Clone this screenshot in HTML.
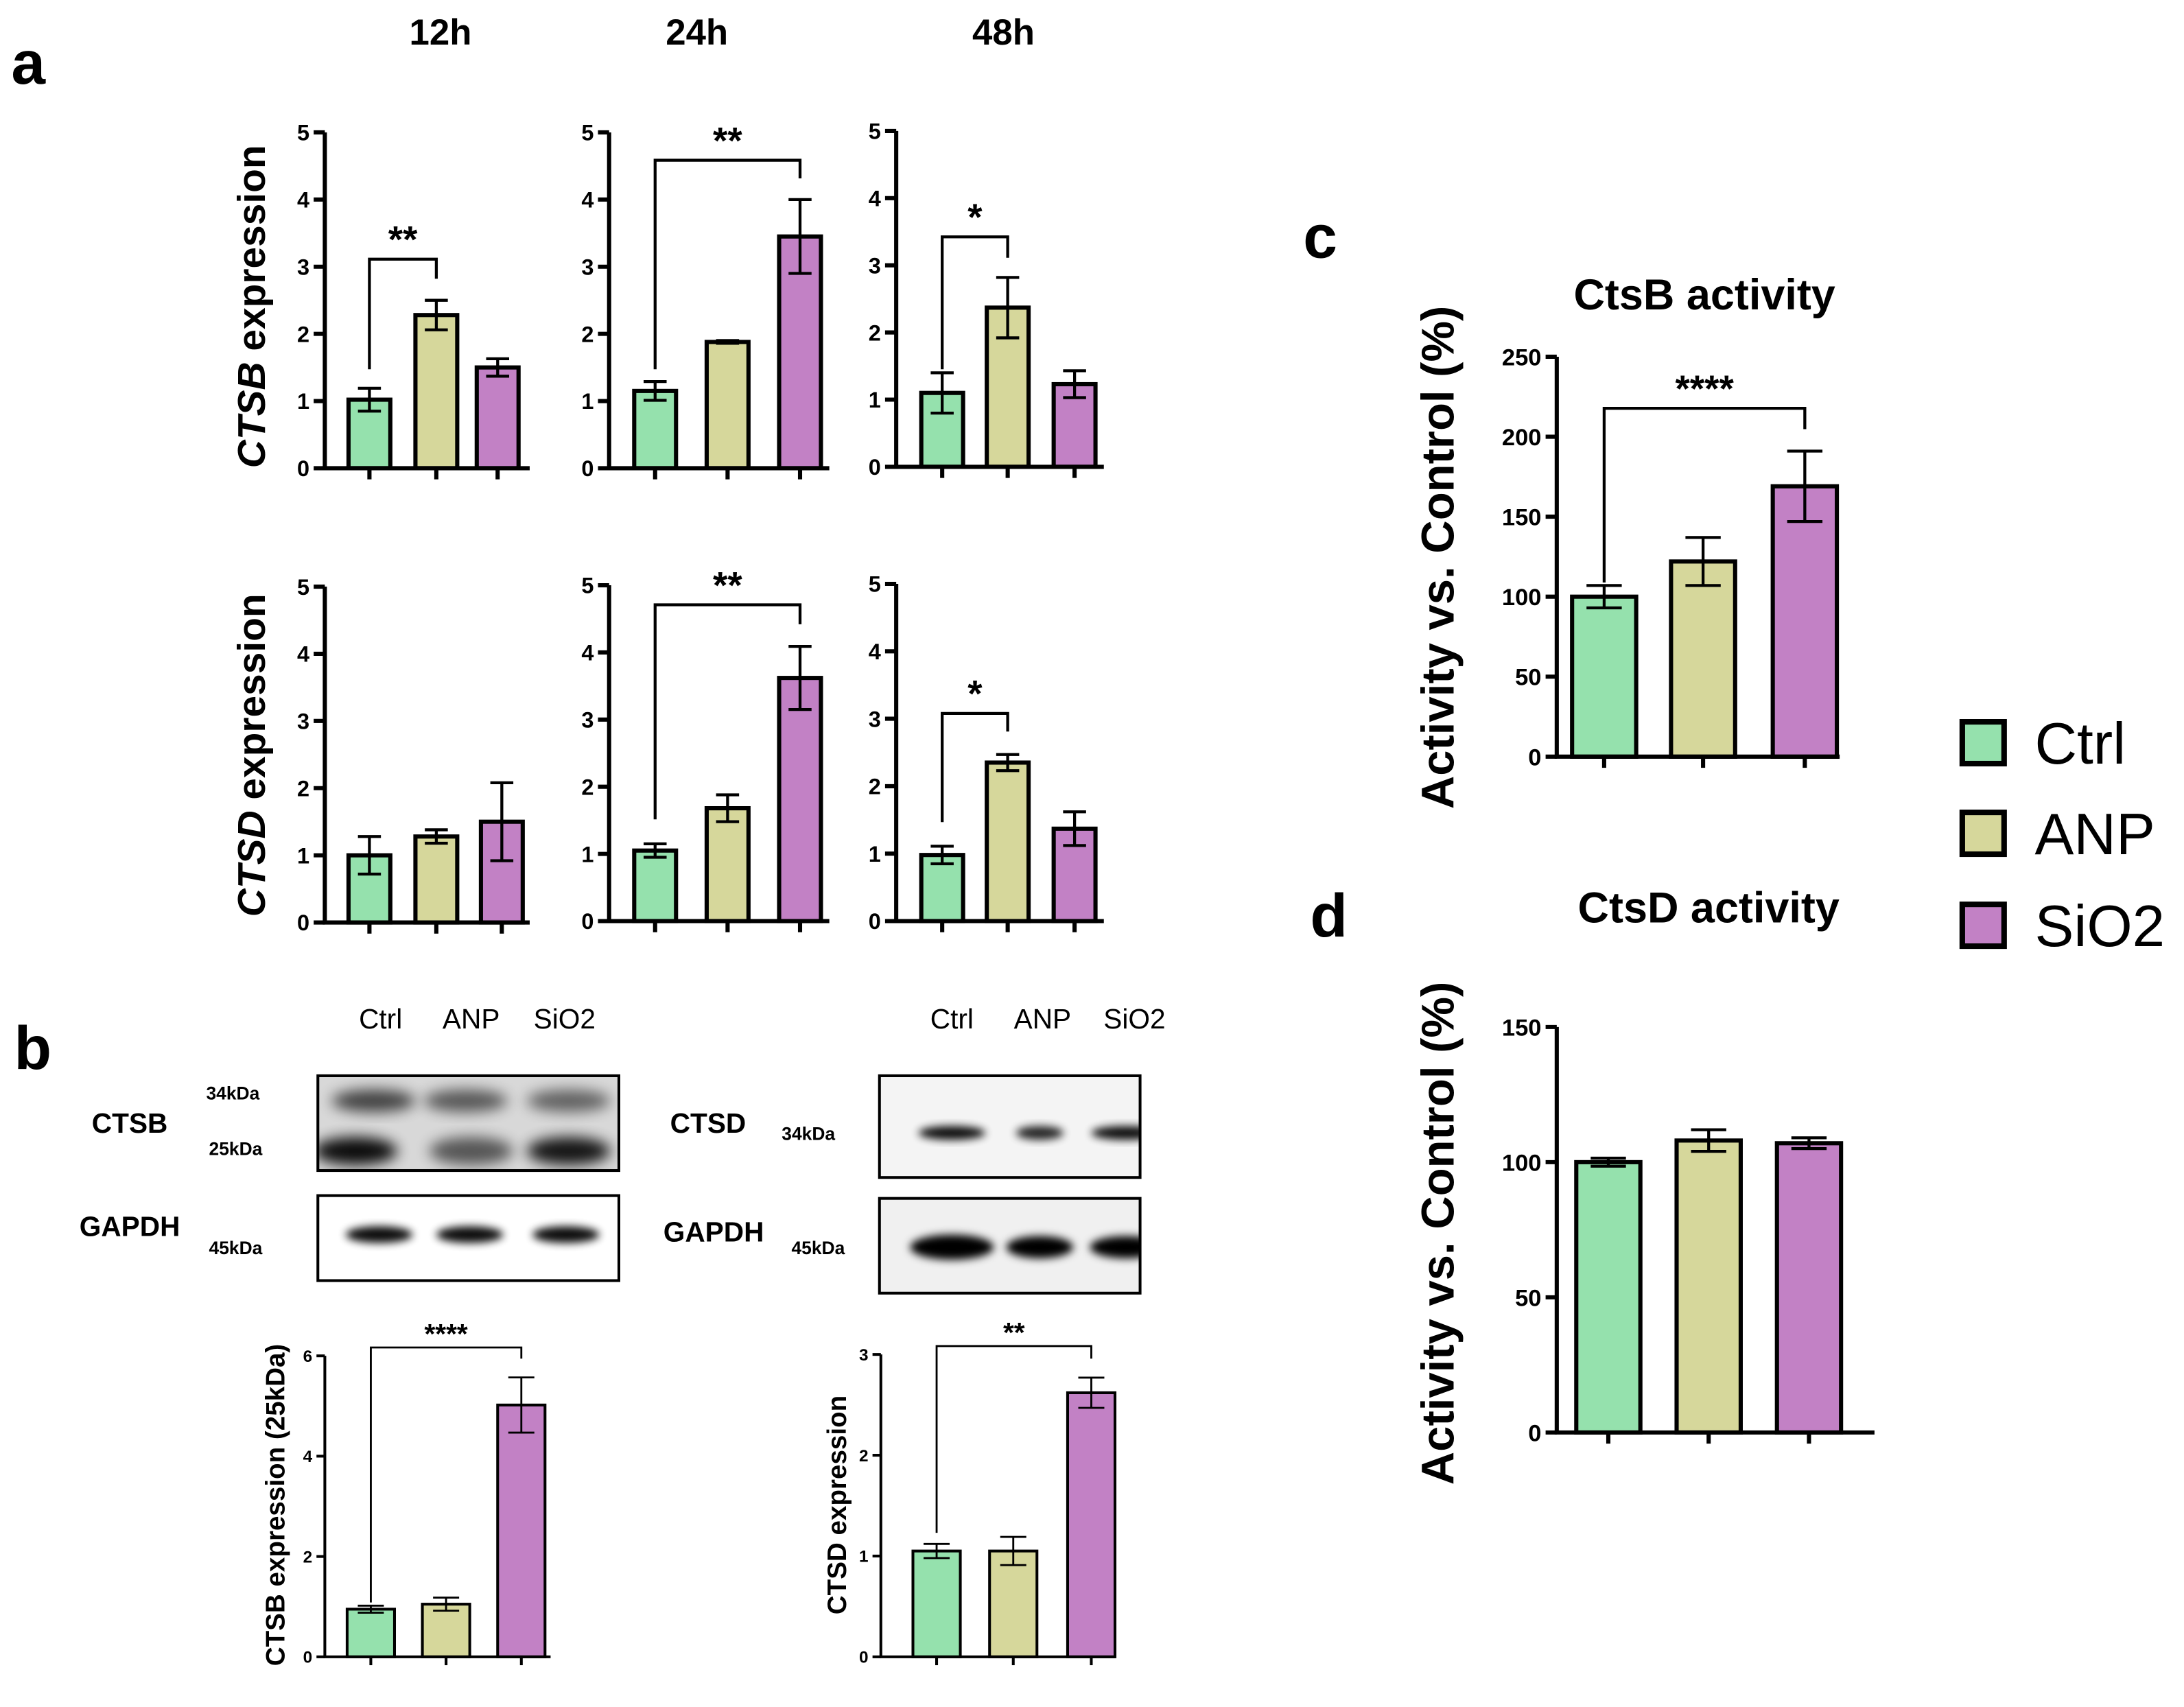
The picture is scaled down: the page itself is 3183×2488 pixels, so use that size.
<!DOCTYPE html>
<html><head><meta charset="utf-8"><style>
html,body{margin:0;padding:0;background:#fff;}
svg{display:block;font-family:"Liberation Sans",Arial,sans-serif;}
</style></head><body>
<svg id="fig" width="3183" height="2488" viewBox="0 0 1567 1225" xmlns="http://www.w3.org/2000/svg">
<defs>
<filter id="blur2" x="-50%" y="-50%" width="200%" height="200%"><feGaussianBlur stdDeviation="3"/></filter>
<filter id="blur4" x="-50%" y="-50%" width="200%" height="200%"><feGaussianBlur stdDeviation="5"/></filter>
</defs>
<g font-weight="bold" fill="#000">
<text x="8" y="60" font-size="44">a</text>
<text x="10" y="767" font-size="44">b</text>
<text x="935" y="185" font-size="44">c</text>
<text x="940" y="672" font-size="44">d</text>
<text x="316" y="32" font-size="26" text-anchor="middle">12h</text>
<text x="500" y="32" font-size="26" text-anchor="middle">24h</text>
<text x="720" y="32" font-size="26" text-anchor="middle">48h</text>
<text transform="translate(190,220) rotate(-90)" font-size="28" text-anchor="middle"><tspan font-style="italic">CTSB</tspan> expression</text>
<text transform="translate(190,542) rotate(-90)" font-size="28" text-anchor="middle"><tspan font-style="italic">CTSD</tspan> expression</text>
</g>
<g id="charts"></g>
<g id="blots"></g>
<g id="legend"></g>
</svg>
<script>
const NS="http://www.w3.org/2000/svg";
const COLORS=["#95e1ad","#d6d79b","#c281c5"];
const groups=["Ctrl","ANP","SiO2"];
// panel a data
const ctsb12=[1.02,2.28,1.50], ctsb12err=[0.17,0.22,0.13];
const ctsb24=[1.15,1.88,3.45], ctsb24err=[0.14,0.02,0.55];
const ctsb48=[1.10,2.37,1.23], ctsb48err=[0.30,0.45,0.20];
const ctsd12=[1.00,1.28,1.50], ctsd12err=[0.28,0.10,0.58];
const ctsd24=[1.05,1.68,3.62], ctsd24err=[0.10,0.20,0.47];
const ctsd48=[0.98,2.35,1.37], ctsd48err=[0.13,0.12,0.25];
const ticksA=[0,1,2,3,4,5];
// panel b
const ctsbWB=[0.95,1.05,5.02], ctsbWBerr=[0.07,0.13,0.55], ticksB1=[0,2,4,6];
const ctsdWB=[1.05,1.05,2.62], ctsdWBerr=[0.07,0.14,0.15], ticksB2=[0,1,2,3];
// panel c,d
const ctsbAct=[100,122,169], ctsbActErr=[7,15,22], ticksC=[0,50,100,150,200,250];
const ctsdAct=[100,108,107], ctsdActErr=[1.5,4,2], ticksD=[0,50,100,150];

function el(tag,attrs,parent,text){const e=document.createElementNS(NS,tag);for(const k in attrs)e.setAttribute(k,attrs[k]);if(text!==undefined)e.textContent=text;parent.appendChild(e);return e;}

function chart(o){
  const g=el('g',{},document.getElementById('charts'));
  
  
  const ymax=o.ticks[o.ticks.length-1];
  const sy=v=>o.y0-(v/ymax)*(o.y0-o.ytop);
  const sw=o.sw;
  o.vals.forEach((v,i)=>{
    const cx=o.cx[i];
    const r=el('rect',{x:cx-o.bw/2,y:sy(v),width:o.bw,height:o.y0-sy(v),fill:COLORS[i],stroke:'#000','stroke-width':sw},g);
    
    
    const e=o.errs[i], cw=o.bw*0.55;
    const p=el('path',{d:`M${cx},${sy(v+e)}V${sy(v-e)}M${cx-cw/2},${sy(v+e)}H${cx+cw/2}M${cx-cw/2},${sy(v-e)}H${cx+cw/2}`,stroke:'#000','stroke-width':sw*0.7,fill:'none'},g);
    
    
  });
  const ax=el('path',{d:`M${o.x0},${o.ytop}V${o.y0}H${o.xend}`,stroke:'#000','stroke-width':sw,fill:'none'},g);
  
  
  o.ticks.forEach(t=>{
    el('line',{x1:o.x0-o.tl,x2:o.x0,y1:sy(t),y2:sy(t),stroke:'#000','stroke-width':sw},g);
    const tx=el('text',{x:o.x0-o.tl-3,y:sy(t)+o.fs*0.36,'font-size':o.fs,'text-anchor':'end','font-weight':o.tw||'bold'},g,String(t));
    
    
  });
  o.cx.forEach(cx=>el('line',{x1:cx,x2:cx,y1:o.y0,y2:o.y0+o.tl,stroke:'#000','stroke-width':sw},g));
  if(o.sig){
    const s=o.sig, a=o.cx[s.i], b=o.cx[s.j];
    const br=el('path',{d:`M${a},${s.ya}V${s.y}H${b}V${s.yb}`,stroke:'#000','stroke-width':sw*0.7,fill:'none'},g);
    
    
    const st=el('text',{x:(a+b)/2,y:s.y-s.gap,'font-size':s.fs,'text-anchor':'middle','font-weight':'bold'},g,s.label);
    
    
  }
  if(o.ylabel){
    const yl=el('text',{transform:`translate(${o.ylabel.x},${o.ylabel.y}) rotate(-90)`,'font-size':o.ylabel.fs,'text-anchor':'middle','font-weight':'bold'},g,o.ylabel.t);
    
    
  }
  if(o.title){
    const tt=el('text',{x:o.title.x,y:o.title.y,'font-size':o.title.fs,'text-anchor':'middle','font-weight':'bold'},g,o.title.t);
    
    
  }
}
const A={ticks:ticksA,bw:30,sw:3,tl:8,fs:16};
chart({...A,name:'ctsb-12h-chart',vals:ctsb12,errs:ctsb12err,x0:233,xend:380,cx:[265,313,357],y0:336,ytop:95,sig:{i:0,j:1,y:186,ya:265,yb:200,gap:5,fs:27,label:'**'}});
chart({...A,name:'ctsb-24h-chart',vals:ctsb24,errs:ctsb24err,x0:437,xend:595,cx:[470,522,574],y0:336,ytop:95,sig:{i:0,j:2,y:115,ya:265,yb:128,gap:5,fs:27,label:'**'}});
chart({...A,name:'ctsb-48h-chart',vals:ctsb48,errs:ctsb48err,x0:643,xend:792,cx:[676,723,771],y0:335,ytop:94,sig:{i:0,j:1,y:170,ya:265,yb:185,gap:5,fs:27,label:'*'}});
chart({...A,name:'ctsd-12h-chart',vals:ctsd12,errs:ctsd12err,x0:233,xend:380,cx:[265,313,360],y0:662,ytop:421});
chart({...A,name:'ctsd-24h-chart',vals:ctsd24,errs:ctsd24err,x0:437,xend:595,cx:[470,522,574],y0:661,ytop:420,sig:{i:0,j:2,y:434,ya:588,yb:448,gap:5,fs:27,label:'**'}});
chart({...A,name:'ctsd-48h-chart',vals:ctsd48,errs:ctsd48err,x0:643,xend:792,cx:[676,723,771],y0:661,ytop:419,sig:{i:0,j:1,y:512,ya:590,yb:525,gap:5,fs:27,label:'*'}});
chart({name:'ctsb-wb-quant-chart',ticks:ticksB1,bw:34,sw:2,tl:6,fs:12,vals:ctsbWB,errs:ctsbWBerr,x0:233,xend:395,cx:[266,320,374],y0:1189,ytop:973,sig:{i:0,j:2,y:967,ya:1150,yb:975,gap:3,fs:20,label:'****'},ylabel:{x:204,y:1080,fs:19,t:'CTSB expression (25kDa)'}});
chart({name:'ctsd-wb-quant-chart',ticks:ticksB2,bw:34,sw:2,tl:6,fs:12,vals:ctsdWB,errs:ctsdWBerr,x0:632,xend:800,cx:[672,727,783],y0:1189,ytop:972,sig:{i:0,j:2,y:966,ya:1100,yb:975,gap:3,fs:20,label:'**'},ylabel:{x:607,y:1080,fs:19,t:'CTSD expression'}});
chart({name:'ctsb-activity-chart',ticks:ticksC,bw:46,sw:3,tl:8,fs:17,vals:ctsbAct,errs:ctsbActErr,x0:1117,xend:1320,cx:[1151,1222,1295],y0:543,ytop:256,sig:{i:0,j:2,y:293,ya:418,yb:308,gap:5,fs:27,label:'****'},ylabel:{x:1043,y:400,fs:33,t:'Activity vs. Control (%)'},title:{x:1223,y:222,fs:31,t:'CtsB activity'}});
chart({name:'ctsd-activity-chart',ticks:ticksD,bw:46,sw:3,tl:8,fs:17,vals:ctsdAct,errs:ctsdActErr,x0:1117,xend:1345,cx:[1154,1226,1298],y0:1028,ytop:737,ylabel:{x:1043,y:885,fs:33,t:'Activity vs. Control (%)'},title:{x:1226,y:662,fs:31,t:'CtsD activity'}});

const lg=document.getElementById('legend');
[533,598,664].forEach((y,i)=>{
  const r=el('rect',{x:1408,y:y-15,width:30,height:30,fill:COLORS[i],stroke:'#000','stroke-width':4},lg);
  
  
  const t=el('text',{x:1460,y:y+15,'font-size':42},lg,groups[i]);
  
  
});

const bl=document.getElementById('blots');
const defs=document.querySelector('defs');
function txt(x,y,s,fs,w,name,anchor){const t=el('text',{x:x,y:y,'font-size':fs,'font-weight':w,'text-anchor':anchor||'middle'},bl,s);return t;}
[[273,'Ctrl'],[338,'ANP'],[405,'SiO2'],[683,'Ctrl'],[748,'ANP'],[814,'SiO2']].forEach(a=>txt(a[0],738,a[1],20,'normal','lane-label-'+a[1].toLowerCase()));
txt(93,813,'CTSB',20,'bold','ctsb-blot-label');
txt(167,789,'34kDa',13,'bold','ctsb-34kda-marker');
txt(169,829,'25kDa',13,'bold','ctsb-25kda-marker');
txt(93,887,'GAPDH',20,'bold','gapdh-blot-label-left');
txt(169,900,'45kDa',13,'bold','gapdh-45kda-marker-left');
txt(508,813,'CTSD',20,'bold','ctsd-blot-label');
txt(580,818,'34kDa',13,'bold','ctsd-34kda-marker');
txt(512,891,'GAPDH',20,'bold','gapdh-blot-label-right');
txt(587,900,'45kDa',13,'bold','gapdh-45kda-marker-right');
let clipN=0;
function box(x,y,w,h,name,bg){
  const id='clip'+(clipN++);
  const cp=el('clipPath',{id:id},defs);
  el('rect',{x:x,y:y,width:w,height:h},cp);
  el('rect',{x:x,y:y,width:w,height:h,fill:bg||'#fff'},bl);
  const g=el('g',{'clip-path':'url(#'+id+')'},bl);
  const r=el('rect',{x:x,y:y,width:w,height:h,fill:'none',stroke:'#000','stroke-width':2},bl);
  
  
  return g;
}
function band(g,cx,cy,rx,ry,op,f){const e=el('ellipse',{cx:cx,cy:cy,rx:rx,ry:ry,fill:'#000',opacity:op,filter:'url(#'+(f||'blur2')+')'},g);}
let g1=box(228,772,216,68,'ctsb-blot','#d8d8d8');
[[268,0.7],[334,0.6],[408,0.55]].forEach(b=>band(g1,b[0],790,30,8,b[1],'blur4'));
[[255,0.95],[338,0.6],[408,0.9]].forEach(b=>band(g1,b[0],826,30,10,b[1],'blur4'));
let g2=box(228,858,216,61,'gapdh-blot-left');
[272,337,406].forEach(x=>band(g2,x,886,24,6,0.95));
let g3=box(631,772,187,73,'ctsd-blot','#f4f4f4');
[[683,24,0.95],[746,17,0.85],[808,25,0.95]].forEach(b=>band(g3,b[0],813,b[1],5,b[2]));
let g4=box(631,860,187,68,'gapdh-blot-right','#f0f0f0');
[[683,30,9],[746,24,8],[808,26,8]].forEach(b=>band(g4,b[0],895,b[1],b[2],1));
</script>
</body></html>
